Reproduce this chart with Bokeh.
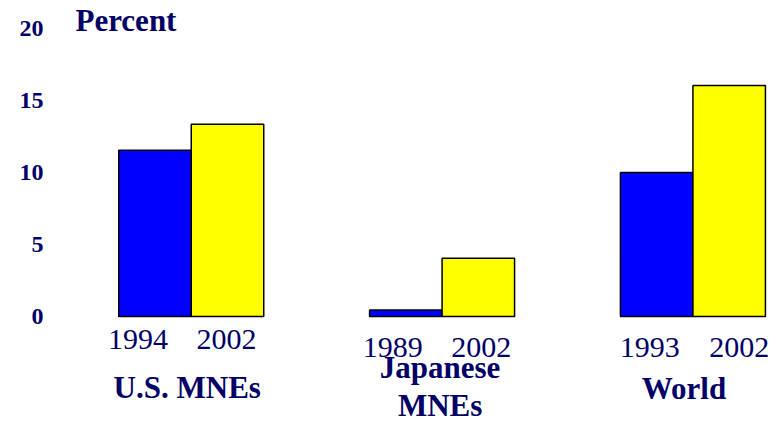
from bokeh.plotting import figure
from bokeh.models import ColumnDataSource, Range1d, FixedTicker
from bokeh.core.properties import value
from bokeh.embed import file_html
from bokeh.resources import INLINE

# ---- data ----
groups = ["U.S. MNEs", "Japanese\nMNEs", "World"]
early_years = ["1994", "1989", "1993"]
late_years = ["2002", "2002", "2002"]
early_values = [11.55, 0.45, 10.0]
late_values = [13.35, 4.05, 16.05]
y_ticks = [0, 5, 10, 15, 20]
y_title = "Percent"

# ---- layout / style (not data) ----
NAVY = "#000066"
BLUE = "#0000FF"
YELLOW = "#FFFF00"
SERIF = "Liberation Serif"
group_step = 3.46
early_label_dx = [-17, -13, -7]
late_label_dx = [-1, 3, 10]
year_label_dy = [23, 31, 31]
group_label_dx = [-4, -2, -9]
group_label_dy = [71, 70, 72]

n = len(groups)
early_x = [i * group_step for i in range(n)]
late_x = [i * group_step + 1 for i in range(n)]

p = figure(width=775, height=423, output_backend="svg", toolbar_location=None,
           x_range=Range1d(-1.469, 8.559), y_range=Range1d(-7.43, 21.944),
           min_border_left=48, min_border_right=0, min_border_top=0, min_border_bottom=0,
           x_axis_location=None)
p.outline_line_color = None
p.xgrid.visible = False
p.ygrid.visible = False
p.background_fill_color = "white"
p.border_fill_color = "white"

yax = p.yaxis[0]
yax.ticker = FixedTicker(ticks=y_ticks)
yax.axis_line_color = None
yax.major_tick_line_color = None
yax.minor_tick_line_color = None
yax.major_tick_out = 0
yax.major_label_standoff = 5
yax.major_label_text_font = SERIF
yax.major_label_text_font_style = "bold"
yax.major_label_text_font_size = "24px"
yax.major_label_text_color = NAVY

src_early = ColumnDataSource(dict(x=early_x, top=early_values))
src_late = ColumnDataSource(dict(x=late_x, top=late_values))
p.vbar(x="x", top="top", bottom=0, width=1, source=src_early,
       fill_color=BLUE, line_color="black", line_width=1.5)
p.vbar(x="x", top="top", bottom=0, width=1, source=src_late,
       fill_color=YELLOW, line_color="black", line_width=1.5)

# year labels
year_src = ColumnDataSource(dict(
    x=early_x + late_x,
    y=[0] * (2 * n),
    text=early_years + late_years,
    dx=early_label_dx + late_label_dx,
    dy=year_label_dy + year_label_dy,
))
p.text(x="x", y="y", text="text", x_offset="dx", y_offset="dy", source=year_src,
       text_align="center", text_baseline="middle",
       text_font=value(SERIF), text_font_size="30px", text_color=NAVY)

# group labels
group_src = ColumnDataSource(dict(
    x=[i * group_step + 0.5 for i in range(n)],
    y=[0] * n,
    text=groups,
    dx=group_label_dx,
    dy=group_label_dy,
))
p.text(x="x", y="y", text="text", x_offset="dx", y_offset="dy", source=group_src,
       text_align="center", text_baseline="middle", text_line_height=1.08,
       text_font=value(SERIF), text_font_style="bold", text_font_size="31px",
       text_color=NAVY)

# axis title
p.text(x=[-1.097], y=[20.56], text=[y_title], text_align="left", text_baseline="middle",
       text_font=value(SERIF), text_font_style="bold", text_font_size="31px",
       text_color=NAVY)

open("out.html", "w").write(file_html(p, INLINE))
